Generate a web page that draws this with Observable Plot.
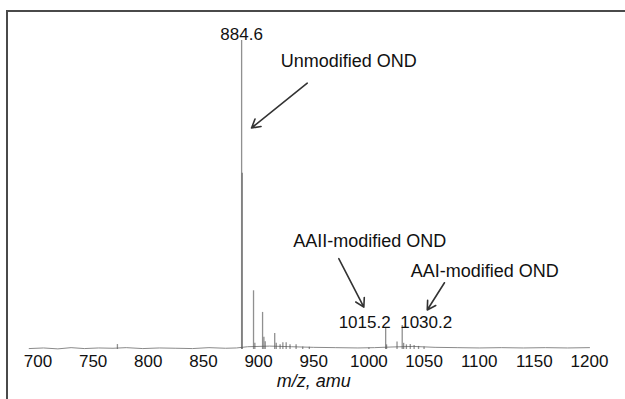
<!DOCTYPE html>
<html><head><meta charset="utf-8">
<script src="https://cdn.jsdelivr.net/npm/d3@7"></script>
<script src="https://cdn.jsdelivr.net/npm/@observablehq/plot@0.6"></script>
<style>
body{margin:0;background:#fff;}
#wrap{position:relative;width:625px;height:399px;overflow:hidden;}
#frame{position:absolute;left:6px;top:10px;right:-4px;bottom:-4px;border-top:2px solid #4a4a4a;border-left:2px solid #4a4a4a;pointer-events:none;}
</style></head><body><div id="wrap"><div id="frame"></div></div>
<script>
// x-axis ticks
const xTicks = [700, 750, 800, 850, 900, 950, 1000, 1050, 1100, 1150, 1200];

// peak list: m/z and relative intensity (%)
const peakMz  = [772.0, 884.6, 885.2, 895.4, 896.6, 903.6, 904.8, 906.0, 914.6, 916.0, 919.5, 922.0, 925.0, 928.5, 934.0, 940.0, 946.0, 1000.0, 1015.2, 1016.0, 1025.5, 1030.2, 1031.5, 1034.0, 1037.5, 1041.0, 1045.0, 1050.0];
const peakInt = [1.6,   100,   57,    19,    2.0,   12,    4.0,   2.5,   5.2,   2.0,   1.5,   2.2,   2.2,   1.5,   1.5,   0.8,   0.7,   0.5,    6.8,    1.5,    2.4,    7.8,    2.0,    1.5,    1.6,    1.3,    1.0,    0.8];

// baseline noise trace
const baseMz  = [692, 705, 718, 730, 742, 755, 768, 780, 795, 810, 825, 840, 855, 870, 880, 890, 910, 930, 950, 970, 990, 1005, 1020, 1040, 1060, 1080, 1100, 1120, 1140, 1160, 1180, 1200];
const baseInt = [0.3, 0.5, 0.2, 0.6, 0.3, 0.5, 0.4, 0.6, 0.3, 0.5, 0.4, 0.3, 0.6, 0.4, 0.5, 0.9, 1.1, 0.9, 0.7, 0.6, 0.5, 0.6, 0.8, 1.0, 0.7, 0.6, 0.5, 0.6, 0.5, 0.6, 0.5, 0.6];

// peak value labels
const valueLabels = ["884.6", "1015.2", "1030.2"];
const valueX      = [884.6, 1015.2, 1030.2];
const valueY      = [100.3, 7.0, 7.0];
const valueAnchor = ["middle", "end", "start"];
const valueDx     = [0, 5, -2];

// annotation texts
const noteTexts = ["Unmodified OND", "AAII-modified OND", "AAI-modified OND"];
const noteX     = [981.8, 1000.8, 1105.0];
const noteY     = [91.4, 33.1, 23.6];

// annotation arrows (data coordinates)
const arrowX1 = [944.1, 972.7, 1068.5];
const arrowY1 = [86.2, 29.4, 21.6];
const arrowX2 = [893.6, 995.4, 1052.9];
const arrowY2 = [71.7, 13.7, 12.8];

const peaks = peakMz.map((m, i) => ({mz: m, inten: peakInt[i]}));
const base = baseMz.map((m, i) => ({mz: m, inten: baseInt[i]}));
const vlabels = valueLabels.map((t, i) => ({t, x: valueX[i], y: valueY[i], a: valueAnchor[i], dx: valueDx[i]}));
const notes = noteTexts.map((t, i) => ({t, x: noteX[i], y: noteY[i]}));
const arrows = arrowX1.map((x, i) => ({x1: x, y1: arrowY1[i], x2: arrowX2[i], y2: arrowY2[i]}));

const chart = Plot.plot({
  width: 625,
  height: 399,
  marginLeft: 37.5,
  marginRight: 36,
  marginTop: 40,
  marginBottom: 50,
  x: {domain: [700, 1200]},
  y: {domain: [0, 100], axis: null},
  style: {fontFamily: "'Liberation Sans', Arial, sans-serif", fontSize: "17px", color: "#111", background: "transparent"},
  marks: [
    Plot.axisX({ticks: xTicks, tickSize: 0, tickPadding: 5, tickFormat: d3.format("d"), fontSize: 17, label: null}),
    Plot.lineY(base, {x: "mz", y: "inten", stroke: "#8a8a8a", strokeWidth: 1}),
    Plot.ruleX(peaks, {x: "mz", y1: 0, y2: "inten", stroke: "#555", strokeWidth: 1.3, strokeOpacity: 0.65}),
    ...vlabels.map(d => Plot.text([d], {x: "x", y: "y", text: "t", textAnchor: d.a, dx: d.dx, lineAnchor: "bottom", fontSize: 17, fill: "#111"})),
    Plot.text(notes, {x: "x", y: "y", text: "t", lineAnchor: "bottom", fontSize: 18, fill: "#111"}),
    Plot.arrow(arrows, {x1: "x1", y1: "y1", x2: "x2", y2: "y2", stroke: "#333", strokeWidth: 1.6, headLength: 9}),
    Plot.text(["m/z, amu"], {frameAnchor: "bottom", dy: 37, lineAnchor: "bottom", fontStyle: "italic", fontSize: 18, fill: "#111"})
  ]
});
chart.style.position = "absolute";
chart.style.left = "0";
chart.style.top = "0";
document.getElementById("wrap").appendChild(chart);
</script>
</body></html>
